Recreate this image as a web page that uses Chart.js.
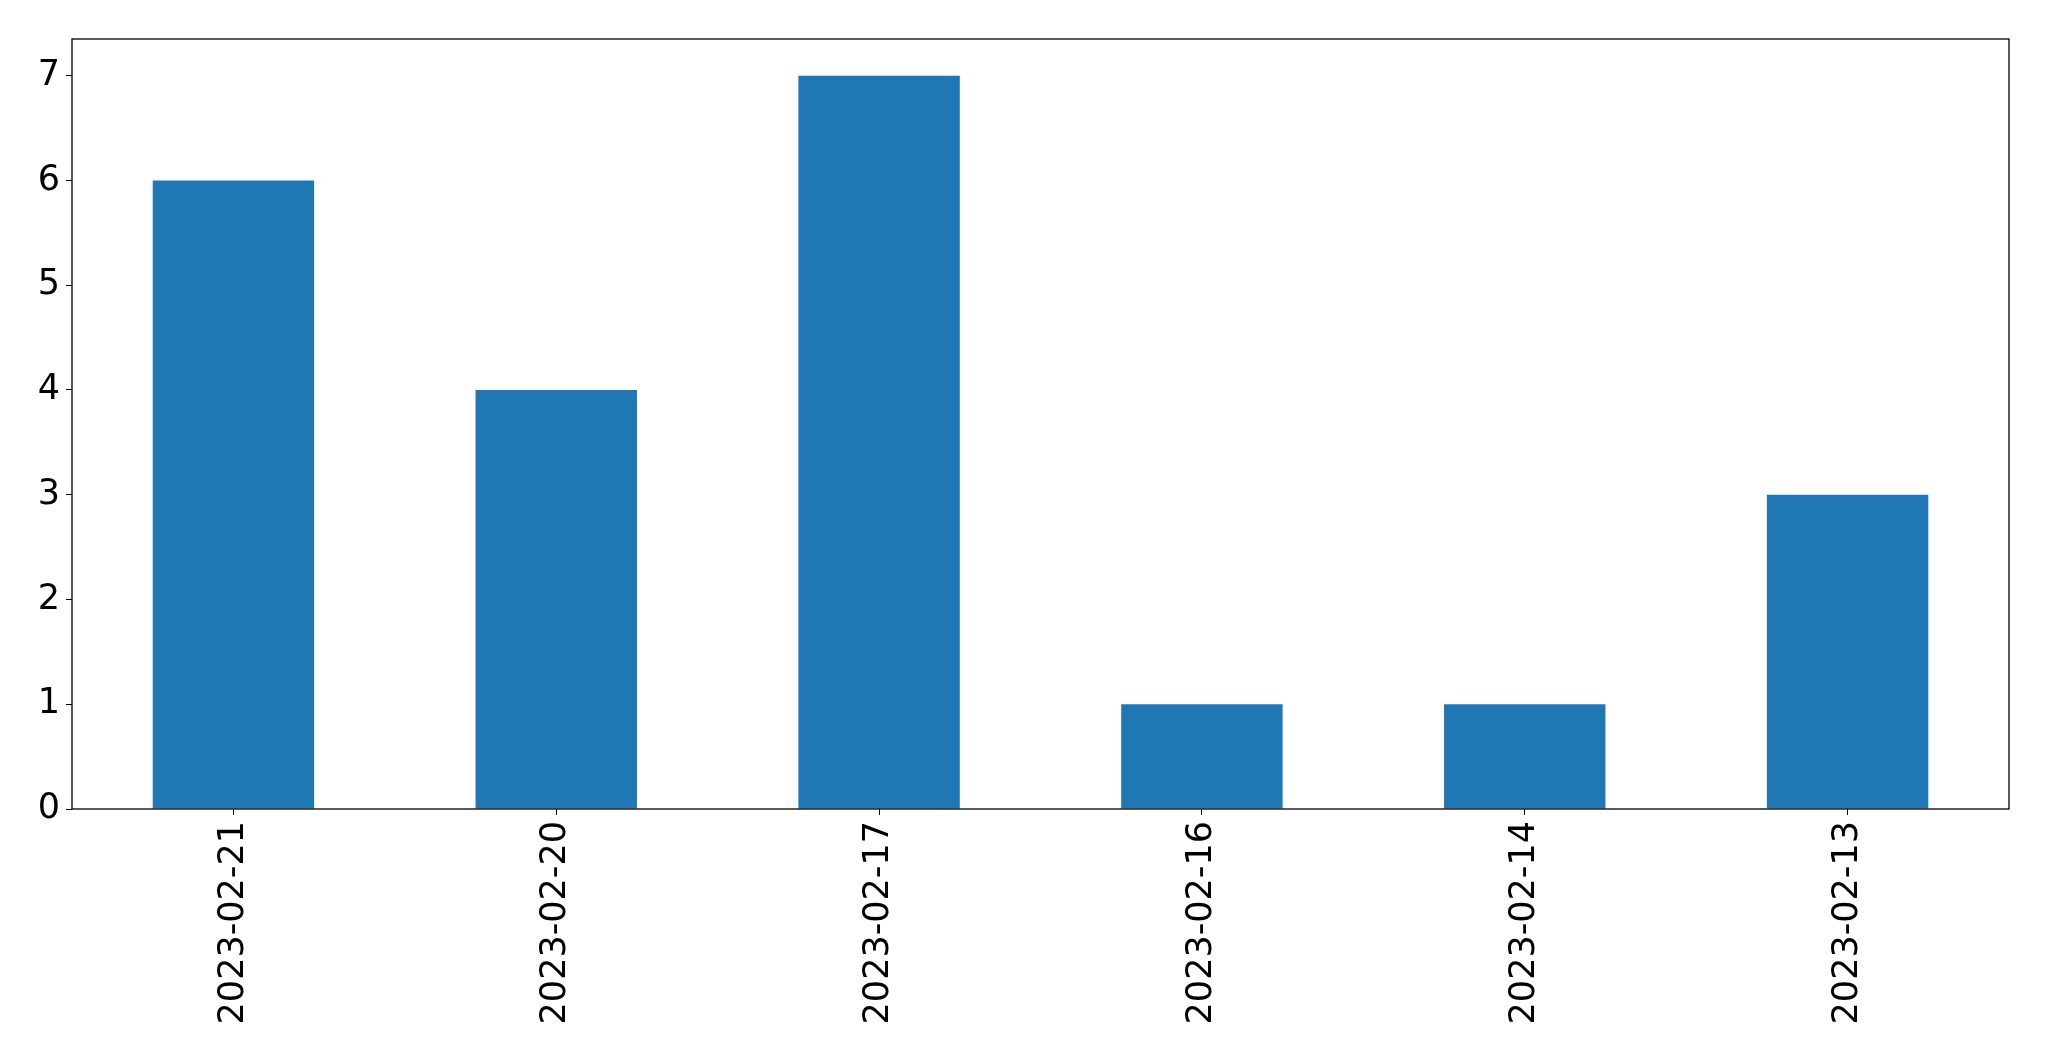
<!DOCTYPE html>
<html>
<head>
<meta charset="utf-8">
<script src="https://cdn.jsdelivr.net/npm/chart.js@4"></script>
<style>
  html, body { margin: 0; padding: 0; background: white; }
  canvas { display: block; }
</style>
</head>
<body>
<canvas id="grafico" width="2049" height="1061"></canvas>
<script>
// datos
const fechas = ["2023-02-21", "2023-02-20", "2023-02-17", "2023-02-16", "2023-02-14", "2023-02-13"];
const cantidades = [6, 4, 7, 1, 1, 3];
const marcasY = [0, 1, 2, 3, 4, 5, 6, 7];
const yMax = 7.35; // margen de 5% como matplotlib

const lienzo = document.getElementById("grafico");

// dibuja el marco negro alrededor del area del grafico
const marco = {
  id: "marco",
  afterDraw(chart) {
    const { ctx, chartArea } = chart;
    ctx.save();
    ctx.strokeStyle = "#000";
    ctx.lineWidth = 1.3;
    ctx.strokeRect(chartArea.left, chartArea.top, chartArea.right - chartArea.left, chartArea.bottom - chartArea.top);
    ctx.restore();
  },
};

const fuente = { family: "DejaVu Sans", size: 35 };

new Chart(lienzo, {
  type: "bar",
  data: {
    labels: fechas,
    datasets: [
      {
        data: cantidades,
        backgroundColor: "#1f77b4",
        borderWidth: 0,
        barPercentage: 0.5,
        categoryPercentage: 1,
      },
    ],
  },
  options: {
    responsive: false,
    animation: false,
    devicePixelRatio: 1,
    layout: { padding: { top: 39, right: 40, left: 0, bottom: 0 } },
    plugins: { legend: { display: false }, tooltip: { enabled: false } },
    scales: {
      x: {
        offset: true,
        grid: { drawOnChartArea: false, tickLength: 6, tickColor: "#000", offset: false },
        border: { display: false },
        ticks: { color: "#000", font: fuente, minRotation: 90, maxRotation: 90, padding: 6, autoSkip: false },
        afterFit: (eje) => { eje.height = 252; },
      },
      y: {
        min: 0,
        max: yMax,
        grid: { drawOnChartArea: false, tickLength: 6, tickColor: "#000" },
        border: { display: false },
        ticks: { color: "#000", font: fuente, padding: 6, autoSkip: false },
        afterBuildTicks: (eje) => { eje.ticks = marcasY.map((v) => ({ value: v })); },
        afterFit: (eje) => { eje.width = 72; },
      },
    },
  },
  plugins: [marco],
});
</script>
</body>
</html>
